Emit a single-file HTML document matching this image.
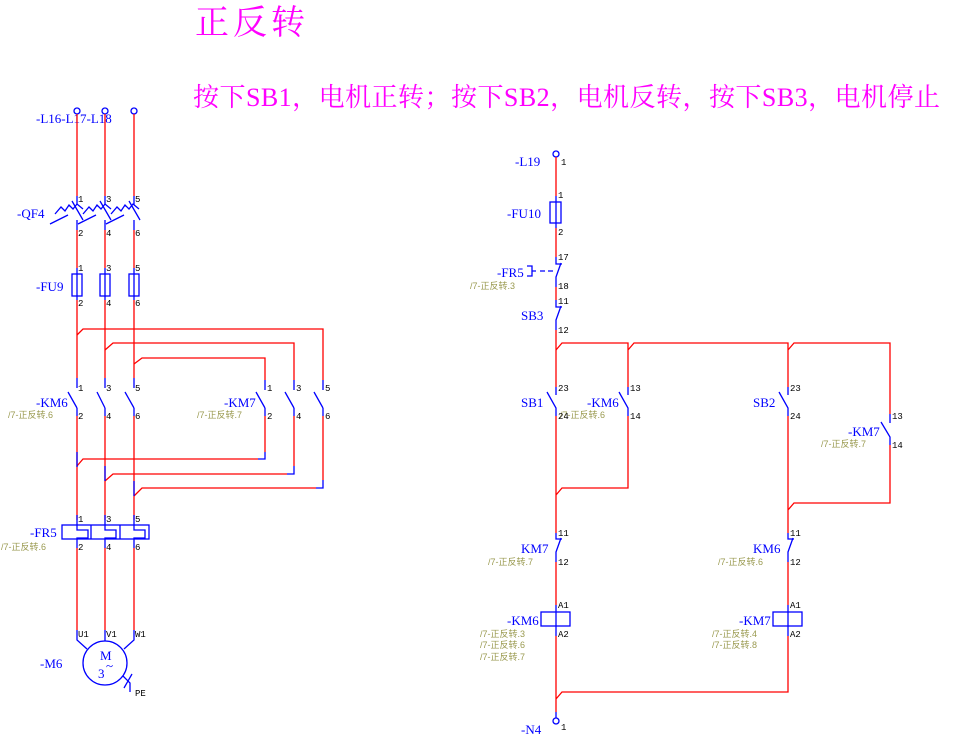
<!DOCTYPE html>
<html><head><meta charset="utf-8"><style>
html,body{margin:0;padding:0;background:#fff}
svg{display:block}
.r{stroke:#f00;stroke-width:1.3;fill:none}
.b{stroke:#00f;stroke-width:1.3;fill:none}
.t{font-family:"Liberation Mono",monospace;font-size:9px;fill:#000}
.lb{font-family:"Liberation Serif",serif;font-size:13px;fill:#00f}
.g{font-family:"Liberation Sans","Noto Sans CJK SC",sans-serif;font-size:9px;fill:#9a9a50}
.m{font-family:"Liberation Serif","Noto Serif CJK SC",serif;fill:#f0f}
</style></head><body>
<svg width="976" height="738" viewBox="0 0 976 738" xmlns="http://www.w3.org/2000/svg">
<text class="m" x="195" y="34" font-size="34" textLength="110">正反转</text>
<text class="m" x="193" y="106" font-size="26" textLength="747">按下SB1，电机正转；按下SB2，电机反转，按下SB3，电机停止</text>

<!-- LEFT MAIN CIRCUIT -->
<g>
<circle class="b" cx="77" cy="111" r="3"/><circle class="b" cx="105" cy="111" r="3"/><circle class="b" cx="134" cy="111" r="3"/>
<text class="lb" x="36" y="123">-L16-L17-L18</text>
<!-- verticals top to QF4 -->
<path class="r" d="M77 114V196M105 114V196M134 114V196"/>
<path class="b" d="M77 196V205M105 196V205M134 196V205"/>
<!-- QF4 -->
<path class="b" d="M72 201L83 220M100 201L111 220M129 201L140 220"/>
<path class="b" d="M55 214l6-7 4 4 4-6 4 4 4-5 6 5M83 214l6-7 4 4 4-6 4 4 4-5 6 5M111 214l6-7 4 4 4-6 4 4 4-5 6 5"/>
<path class="b" d="M50 224L68 215M78 224L96 215M106 224L124 215"/>
<path class="b" d="M77 220V230M105 220V230M134 220V230"/>
<text class="lb" x="17" y="218">-QF4</text>
<path class="r" d="M77 230V268M105 230V268M134 230V268"/>
<path class="b" d="M77 268V300M105 268V300M134 268V300"/>
<rect class="b" x="72" y="274" width="10" height="22"/><rect class="b" x="100" y="274" width="10" height="22"/><rect class="b" x="129" y="274" width="10" height="22"/>
<text class="lb" x="36" y="291">-FU9</text>
<path class="r" d="M77 300V378M105 300V378M134 300V378"/>
<!-- cross wires top -->
<path class="r" d="M77 335L83 329H323V380M105 350L113 343H294V380M134 364L142 358H265V380"/>
<path class="b" d="M323 380V390M294 380V390M265 380V390"/>
<!-- contacts KM6 -->
<path class="b" d="M77 378V388M105 378V388M134 378V388"/>
<path class="b" d="M68 392L77 408M97 392L105 408M125 392L134 408M256 392L265 408M285 392L294 408M314 392L323 408"/>
<path class="b" d="M77 408V416M105 408V416M134 408V416M265 408V416M294 408V416M323 408V416"/>
<text class="lb" x="36" y="407">-KM6</text><text class="g" x="8" y="418">/7-正反转.6</text>
<text class="lb" x="224" y="407">-KM7</text><text class="g" x="197" y="418">/7-正反转.7</text>
<!-- bottom wires -->
<path class="r" d="M77 416V520M105 416V520M134 416V520"/>
<path class="r" d="M265 416V452M294 416V466M323 416V480"/>
<path class="b" d="M265 452V459H258M294 466V474H287M323 480V488H316"/>
<path class="r" d="M258 459H83L77 466M287 474H113L105 481M316 488H142L134 496"/>
<path class="b" d="M77 452V467M105 466V481M134 481V496"/>
<!-- FR5 -->
<path class="b" d="M77 515V530H88V538H77V548M105 515V530H116V538H105V548M134 515V530H145V538H134V548"/>
<rect class="b" x="62" y="525" width="87" height="14"/>
<path class="b" d="M91 525V539M120 525V539"/>
<text class="lb" x="30" y="537">-FR5</text><text class="g" x="1" y="550">/7-正反转.6</text>
<path class="r" d="M77 548V630M105 548V630M134 548V630"/>
<path class="b" d="M77 630V640L87 649M105 630V641M134 630V640L124 649"/>
<circle class="b" cx="105" cy="663" r="22"/>
<text class="lb" x="100" y="660" font-size="12">M</text><text class="lb" x="98" y="678" font-size="14">3</text><text class="lb" x="106" y="670" font-size="10">~</text>
<path class="b" d="M123 676L130 683V692M124 688L132 674"/>
<text class="lb" x="40" y="668">-M6</text>
</g>

<!-- numbers left -->
<g class="t">
<text x="78" y="202">1</text><text x="106" y="202">3</text><text x="135" y="202">5</text>
<text x="78" y="236">2</text><text x="106" y="236">4</text><text x="135" y="236">6</text>
<text x="78" y="271">1</text><text x="106" y="271">3</text><text x="135" y="271">5</text>
<text x="78" y="306">2</text><text x="106" y="306">4</text><text x="135" y="306">6</text>
<text x="78" y="391">1</text><text x="106" y="391">3</text><text x="135" y="391">5</text>
<text x="78" y="419">2</text><text x="106" y="419">4</text><text x="135" y="419">6</text>
<text x="267" y="391">1</text><text x="296" y="391">3</text><text x="325" y="391">5</text>
<text x="267" y="419">2</text><text x="296" y="419">4</text><text x="325" y="419">6</text>
<text x="78" y="522">1</text><text x="106" y="522">3</text><text x="135" y="522">5</text>
<text x="78" y="550">2</text><text x="106" y="550">4</text><text x="135" y="550">6</text>
<text x="78" y="637">U1</text><text x="106" y="637">V1</text><text x="135" y="637">W1</text>
<text x="135" y="696">PE</text>
</g>

<!-- RIGHT CONTROL CIRCUIT -->
<g>
<circle class="b" cx="556" cy="154" r="3"/>
<text class="lb" x="515" y="166">-L19</text>
<path class="r" d="M556 157V196"/>
<path class="b" d="M556 196V228"/>
<rect class="b" x="550" y="202" width="11" height="21"/>
<text class="lb" x="507" y="218">-FU10</text>
<path class="r" d="M556 228V257"/>
<!-- FR5 NC -->
<path class="b" d="M556 257V264H562M561 263L556 277V287"/>
<path class="b" d="M527 266h5v10h-5M532 271h4M540 271h5M548 271h5"/>
<text class="lb" x="497" y="277">-FR5</text><text class="g" x="470" y="289">/7-正反转.3</text>
<path class="r" d="M556 287V300"/>
<path class="b" d="M556 300V307H562M561 306L556 320V330"/>
<text class="lb" x="521" y="320">SB3</text>
<path class="r" d="M556 330V387"/>
<path class="r" d="M556 350L562 343H628V387M628 350L634 343H788V387M788 350L794 343H890V414"/>
<!-- NO contacts -->
<path class="b" d="M556 387V395M547 392L556 408V416M628 387V395M619 392L628 408V416M788 387V395M779 392L788 408V416M890 414V423M881 422L890 437V445"/>
<text class="lb" x="521" y="407">SB1</text>
<text class="lb" x="587" y="407">-KM6</text><text class="g" x="560" y="418">/7-正反转.6</text>
<text class="lb" x="753" y="407">SB2</text>
<text class="lb" x="848" y="436">-KM7</text><text class="g" x="821" y="447">/7-正反转.7</text>
<path class="r" d="M556 416V533M628 416V488H562L556 495M788 416V533M890 445V503H794L788 510"/>
<!-- NC interlocks -->
<path class="b" d="M556 533V539H562M561 538L556 552V562M788 533V539H794M793 538L788 552V562"/>
<text class="lb" x="521" y="553">KM7</text><text class="g" x="488" y="565">/7-正反转.7</text>
<text class="lb" x="753" y="553">KM6</text><text class="g" x="718" y="565">/7-正反转.6</text>
<path class="r" d="M556 562V605M788 562V605"/>
<path class="b" d="M556 605V636M788 605V636"/>
<rect class="b" x="541" y="612" width="29" height="14" fill="#fff"/>
<rect class="b" x="773" y="612" width="29" height="14" fill="#fff"/>
<text class="lb" x="507" y="625">-KM6</text>
<text class="lb" x="739" y="625">-KM7</text>
<text class="g" x="480" y="637">/7-正反转.3</text><text class="g" x="480" y="648">/7-正反转.6</text><text class="g" x="480" y="660">/7-正反转.7</text>
<text class="g" x="712" y="637">/7-正反转.4</text><text class="g" x="712" y="648">/7-正反转.8</text>
<path class="r" d="M556 636V712M788 636V692H562L556 699"/>
<path class="b" d="M556 712V718"/>
<circle class="b" cx="556" cy="721" r="3"/>
<text class="lb" x="521" y="734">-N4</text>
</g>
<g class="t">
<text x="561" y="165">1</text>
<text x="558" y="198">1</text><text x="558" y="235">2</text>
<text x="558" y="260">17</text><text x="558" y="289">18</text>
<text x="558" y="304">11</text><text x="558" y="333">12</text>
<text x="558" y="391">23</text><text x="558" y="419">24</text>
<text x="630" y="391">13</text><text x="630" y="419">14</text>
<text x="790" y="391">23</text><text x="790" y="419">24</text>
<text x="892" y="419">13</text><text x="892" y="448">14</text>
<text x="558" y="536">11</text><text x="558" y="565">12</text>
<text x="790" y="536">11</text><text x="790" y="565">12</text>
<text x="558" y="608">A1</text><text x="558" y="637">A2</text>
<text x="790" y="608">A1</text><text x="790" y="637">A2</text>
<text x="561" y="730">1</text>
</g>
</svg>
</body></html>
